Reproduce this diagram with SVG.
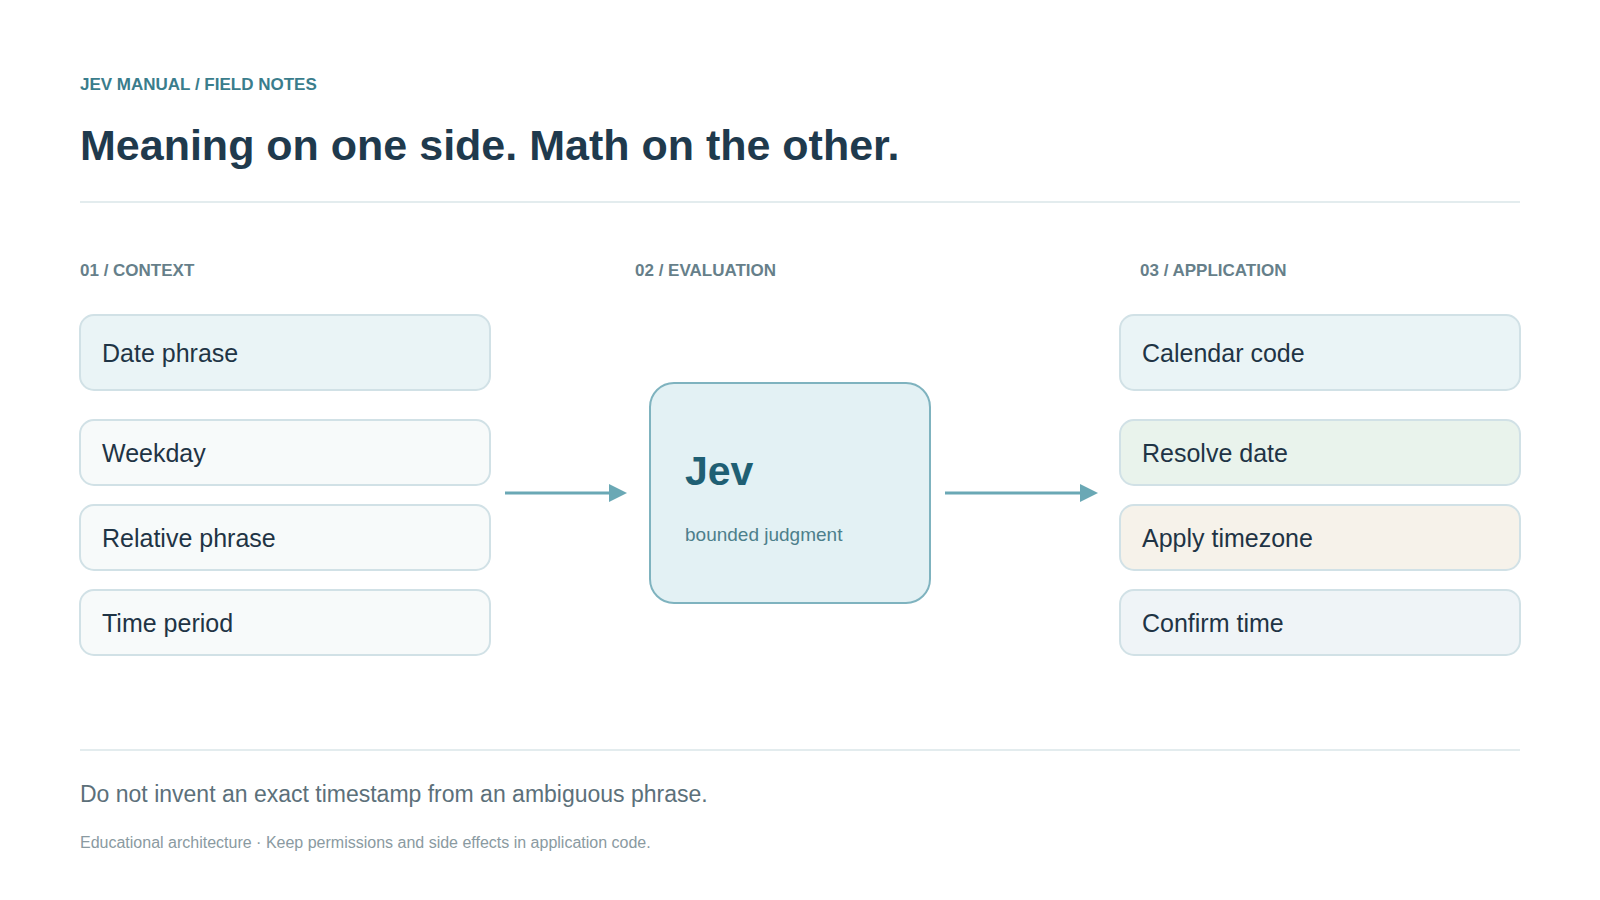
<svg xmlns="http://www.w3.org/2000/svg" width="1600" height="900" viewBox="0 0 1600 900">
  <defs>
    <style>
      text { font-family: "Liberation Sans", Arial, sans-serif; }
      .kicker { font-size: 17px; font-weight: 700; fill: #3a7d8c; }
      .title { font-size: 43px; font-weight: 700; fill: #1f3a4d; }
      .section { font-size: 17px; font-weight: 700; fill: #667f8a; }
      .rule { stroke: #e3ecee; stroke-width: 2; }
      .box { stroke: #d1e1e6; stroke-width: 2; }
      .label { font-size: 25px; fill: #1f3445; }
      .conn { stroke: #6aa8b5; stroke-width: 3; fill: none; }
      .head { fill: #6aa8b5; }
      .note { font-size: 23px; fill: #5c707a; }
      .foot { font-size: 16px; fill: #8a9aa1; }
    </style>
  </defs>
  <rect width="1600" height="900" fill="#ffffff"/>

  <text class="kicker" x="80" y="90">JEV MANUAL / FIELD NOTES</text>
  <text class="title" x="80" y="160">Meaning on one side. Math on the other.</text>
  <line class="rule" x1="80" y1="202" x2="1520" y2="202"/>

  <text class="section" x="80" y="276">01 / CONTEXT</text>
  <text class="section" x="635" y="276">02 / EVALUATION</text>
  <text class="section" x="1140" y="276">03 / APPLICATION</text>

  <g id="date-phrase">
    <rect class="box" x="80" y="315" width="410" height="75" rx="14" fill="#eaf4f6"/>
    <text class="label" x="102" y="362">Date phrase</text>
  </g>
  <g id="weekday">
    <rect class="box" x="80" y="420" width="410" height="65" rx="14" fill="#f7fafa"/>
    <text class="label" x="102" y="462">Weekday</text>
  </g>
  <g id="relative-phrase">
    <rect class="box" x="80" y="505" width="410" height="65" rx="14" fill="#f7fafa"/>
    <text class="label" x="102" y="547">Relative phrase</text>
  </g>
  <g id="time-period">
    <rect class="box" x="80" y="590" width="410" height="65" rx="14" fill="#f7fafa"/>
    <text class="label" x="102" y="632">Time period</text>
  </g>

  <g id="jev">
    <rect x="650" y="383" width="280" height="220" rx="24" fill="#e3f1f4" stroke="#7fb3bf" stroke-width="2"/>
    <text x="685" y="485" font-size="41" font-weight="700" fill="#1f5f73">Jev</text>
    <text x="685" y="541" font-size="19" fill="#4d7f8b">bounded judgment</text>
  </g>

  <g id="calendar-code">
    <rect class="box" x="1120" y="315" width="400" height="75" rx="14" fill="#eaf4f6"/>
    <text class="label" x="1142" y="362">Calendar code</text>
  </g>
  <g id="resolve-date">
    <rect class="box" x="1120" y="420" width="400" height="65" rx="14" fill="#e9f3ec"/>
    <text class="label" x="1142" y="462">Resolve date</text>
  </g>
  <g id="apply-timezone">
    <rect class="box" x="1120" y="505" width="400" height="65" rx="14" fill="#f6f2ea"/>
    <text class="label" x="1142" y="547">Apply timezone</text>
  </g>
  <g id="confirm-time">
    <rect class="box" x="1120" y="590" width="400" height="65" rx="14" fill="#eff4f7"/>
    <text class="label" x="1142" y="632">Confirm time</text>
  </g>

  <g id="connectors">
    <line class="conn" x1="505" y1="493" x2="609" y2="493"/>
    <path class="head" d="M609,484 L627,493 L609,502 Z"/>
    <line class="conn" x1="945" y1="493" x2="1080" y2="493"/>
    <path class="head" d="M1080,484 L1098,493 L1080,502 Z"/>
  </g>

  <line class="rule" x1="80" y1="750" x2="1520" y2="750"/>
  <text class="note" x="80" y="802">Do not invent an exact timestamp from an ambiguous phrase.</text>
  <text class="foot" x="80" y="848">Educational architecture · Keep permissions and side effects in application code.</text>
</svg>
